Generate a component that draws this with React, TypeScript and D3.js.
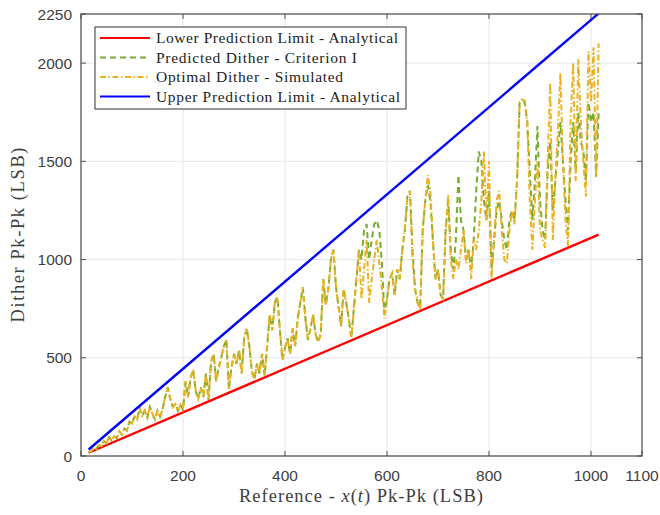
import React from "react";
import * as d3 from "d3";

const xTicks = [0, 200, 400, 600, 800, 1000, 1100];
const yTicks = [0, 500, 1000, 1500, 2000, 2250];

const limitX = [15, 1015];
const lowerLimit = [16.6, 1127];
const upperLimit = [33, 2253];

const refX = d3.range(15, 1016, 5);

const optimal = [
  20, 25, 40, 35, 55, 50, 75, 65, 95, 80,
  100, 90, 125, 110, 140, 130, 175, 165, 200, 185,
  245, 205, 230, 195, 250, 215, 185, 230, 200, 240,
  300, 350, 290, 250, 265, 230, 260, 235, 380, 300,
  400, 440, 330, 290, 350, 300, 420, 285, 480, 520,
  380, 450, 500, 560, 590, 340, 450, 520, 470, 540,
  420, 600, 650, 560, 430, 390, 470, 420, 520, 410,
  560, 720, 640, 780, 810, 640, 490, 550, 600, 520,
  650, 560, 700, 780, 860, 700, 590, 650, 720, 620,
  580, 620, 900, 770, 850, 1000, 1050, 860, 760, 660,
  850, 780, 700, 600, 750, 900, 1050, 800, 950, 1100,
  780, 900, 1000, 1100, 980, 860, 700, 800, 900, 930,
  820, 950, 900, 1050, 1150, 1320, 1350, 1000, 850, 780,
  740, 1150, 1300, 1430, 1350, 1100, 900, 950, 820, 800,
  1150, 1330, 1000, 900, 1000, 950, 1050, 1150, 980, 1050,
  900, 1100, 1050, 1150, 1300, 1550, 1200, 1500, 900, 1100,
  1300, 1350, 1150, 1000, 980, 1150, 1250, 1180, 1400, 1800,
  1815, 1810, 1700, 1300, 1050, 1300, 1500, 1150, 1100, 1060,
  1500, 1900, 1100, 1400, 1650, 1950, 1500, 1200, 1070, 1700,
  2000, 1400, 2020, 1700, 1500, 1320, 2060, 1800, 2080, 1420,
  2100,
];

const predicted = [
  20, 25, 40, 35, 55, 50, 75, 65, 95, 80,
  100, 90, 125, 110, 140, 130, 175, 165, 200, 185,
  245, 205, 230, 195, 250, 215, 185, 230, 200, 240,
  300, 350, 290, 250, 265, 230, 260, 235, 380, 300,
  400, 440, 330, 290, 350, 300, 420, 285, 480, 520,
  380, 450, 500, 560, 590, 340, 450, 520, 470, 540,
  420, 600, 650, 560, 430, 390, 470, 420, 520, 410,
  560, 720, 640, 780, 810, 640, 490, 550, 600, 520,
  650, 560, 700, 780, 860, 700, 590, 650, 720, 620,
  580, 620, 900, 770, 850, 1000, 1050, 860, 760, 660,
  850, 780, 700, 600, 750, 900, 1050, 1000, 1150, 1180,
  1000, 1100, 1180, 1200, 1150, 980, 720, 800, 900, 930,
  820, 950, 900, 1050, 1150, 1320, 1350, 1050, 850, 780,
  760, 1150, 1300, 1380, 1300, 1100, 900, 950, 820, 800,
  1150, 1300, 1050, 950, 1100, 1430, 1200, 1150, 1000, 1050,
  950, 1100, 1350, 1550, 1500, 1300, 1200, 1350, 950, 1100,
  1250, 1300, 1200, 1100, 1050, 1200, 1250, 1200, 1400, 1800,
  1810, 1800, 1700, 1450, 1200, 1400, 1680, 1300, 1150, 1100,
  1450, 1600, 1250, 1400, 1550, 1700, 1500, 1300, 1150, 1500,
  1700, 1450, 1750, 1600, 1550, 1400, 1800, 1700, 1750, 1420,
  1750,
];

const legendLabels = [
  "Lower Prediction Limit - Analytical",
  "Predicted Dither - Criterion I",
  "Optimal Dither - Simulated",
  "Upper Prediction Limit - Analytical",
];
const legendWidths = [242, 201, 187, 244];

const W = 660, H = 515;
const L = 81, R = 642, T = 14, B = 456;

export default function App() {
  const x = d3.scaleLinear().domain([0, 1100]).range([L, R]);
  const y = d3.scaleLinear().domain([0, 2250]).range([B, T]);
  const line = d3.line<[number, number]>().x(d => x(d[0])).y(d => y(d[1]));
  const pts = (xs: number[], ys: number[]) => xs.map((v, i) => [v, ys[i]] as [number, number]);

  const axisCol = "#4d4d4d";
  const tickFont = "'Liberation Sans', Arial, sans-serif";
  const serif = "'Liberation Serif', 'DejaVu Serif', serif";

  const legendStyles = [
    { stroke: "#FF0000", dash: undefined, w: 2.2 },
    { stroke: "#77AC30", dash: "6,4", w: 2 },
    { stroke: "#EDB120", dash: "6,2.5,1.5,2.5", w: 2 },
    { stroke: "#0000FF", dash: undefined, w: 2.2 },
  ];
  const legendY = [38, 57.5, 77, 96.5];

  return (
    <svg width={W} height={H} style={{ position: "absolute", left: 0, top: 0, background: "#fff" }}>
      <defs>
        <clipPath id="plotclip">
          <rect x={L} y={T} width={R - L} height={B - T} />
        </clipPath>
      </defs>
      <rect x={0} y={0} width={W} height={H} fill="#fff" />
      {xTicks.map(t => (
        <line key={"gx" + t} x1={x(t)} x2={x(t)} y1={T} y2={B} stroke="#e6e6e6" strokeWidth={1} />
      ))}
      {yTicks.map(t => (
        <line key={"gy" + t} x1={L} x2={R} y1={y(t)} y2={y(t)} stroke="#e6e6e6" strokeWidth={1} />
      ))}
      <g clipPath="url(#plotclip)" fill="none">
        <path d={line(pts(limitX, lowerLimit)) || ""} stroke="#FF0000" strokeWidth={2.4} />
        <path d={line(pts(refX, predicted)) || ""} stroke="#77AC30" strokeWidth={2} strokeDasharray="6,4" />
        <path d={line(pts(refX, optimal)) || ""} stroke="#EDB120" strokeWidth={2} strokeDasharray="6,2.5,1.5,2.5" />
        <path d={line(pts(limitX, upperLimit)) || ""} stroke="#0000FF" strokeWidth={2.4} />
      </g>
      <rect x={L} y={T} width={R - L} height={B - T} fill="none" stroke={axisCol} strokeWidth={1.2} />
      {xTicks.map(t => (
        <g key={"tx" + t}>
          <line x1={x(t)} x2={x(t)} y1={B} y2={B - 5} stroke={axisCol} />
          <line x1={x(t)} x2={x(t)} y1={T} y2={T + 5} stroke={axisCol} />
          <text x={x(t)} y={481} textAnchor="middle" fontFamily={tickFont} fontSize={15.5} fill="#404040">{t}</text>
        </g>
      ))}
      {yTicks.map(t => (
        <g key={"ty" + t}>
          <line x1={L} x2={L + 5} y1={y(t)} y2={y(t)} stroke={axisCol} />
          <line x1={R} x2={R - 5} y1={y(t)} y2={y(t)} stroke={axisCol} />
          <text x={72} y={y(t) + 5.5} textAnchor="end" fontFamily={tickFont} fontSize={15.5} fill="#404040">{t}</text>
        </g>
      ))}
      <text x={361} y={502} textAnchor="middle" fontFamily={serif} fontSize={18.5} fill="#404040"
        textLength={244} lengthAdjust="spacing">
        Reference - <tspan fontStyle="italic">x</tspan>(<tspan fontStyle="italic">t</tspan>) Pk-Pk (LSB)
      </text>
      <text transform="translate(24,235) rotate(-90)" textAnchor="middle" fontFamily={serif} fontSize={18.5} fill="#404040"
        textLength={175} lengthAdjust="spacing">
        Dither Pk-Pk (LSB)
      </text>
      <rect x={95} y={27} width={311} height={82} fill="#fff" stroke="#333" strokeWidth={1} />
      {legendLabels.map((lab, i) => (
        <g key={lab}>
          <line x1={100} x2={150} y1={legendY[i]} y2={legendY[i]} stroke={legendStyles[i].stroke}
            strokeWidth={legendStyles[i].w} strokeDasharray={legendStyles[i].dash} />
          <text x={156} y={legendY[i] + 5} fontFamily={serif} fontSize={15.5} fill="#222"
            textLength={legendWidths[i]} lengthAdjust="spacing">{lab}</text>
        </g>
      ))}
    </svg>
  );
}
